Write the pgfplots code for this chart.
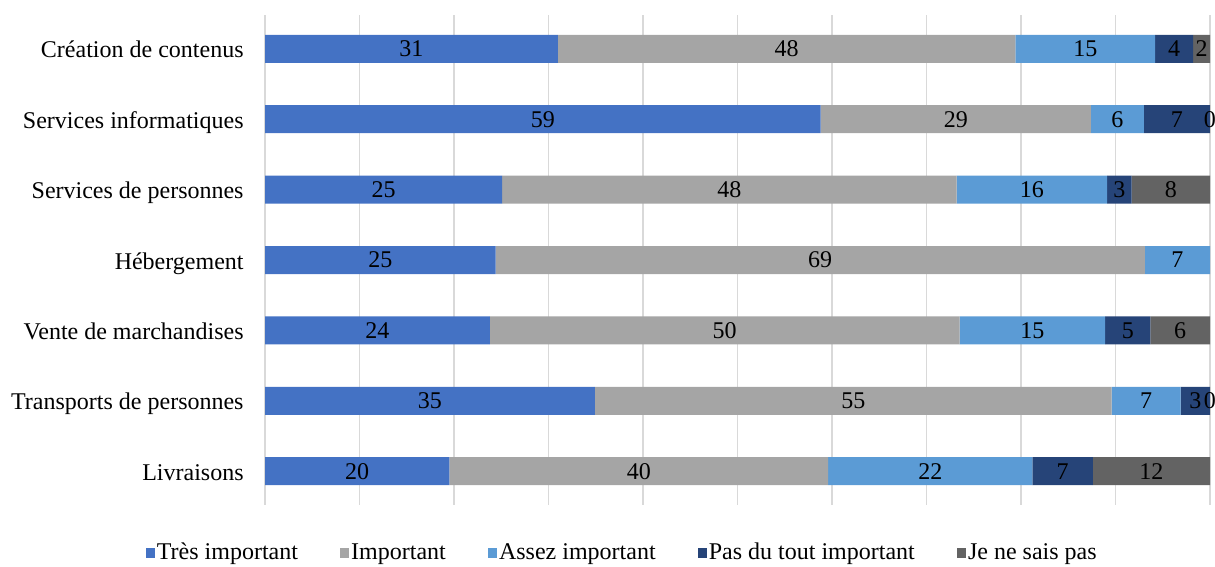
\documentclass[border=0pt]{standalone}
\usepackage{pgfplots}
\pgfplotsset{compat=1.18}
\usepackage{fontspec}
\setmainfont{Liberation Serif}
\definecolor{c1}{HTML}{4472C4}
\definecolor{c2}{HTML}{A5A5A5}
\definecolor{c3}{HTML}{5B9BD5}
\definecolor{c4}{HTML}{264478}
\definecolor{c5}{HTML}{636363}
\definecolor{gridc}{HTML}{D9D9D9}
\begin{document}
\fontsize{12}{14}\selectfont
\begin{tikzpicture}
\useasboundingbox (0,0) rectangle (607.5pt,283.5pt);
\begin{axis}[
  at={(132.5pt,31pt)}, anchor=south west,
  scale only axis, width=472.5pt, height=245pt,
  xbar stacked, bar width=14pt,
  xmin=0, xmax=100, ymin=-0.48, ymax=6.48,
  xtick={0,10,...,100}, xticklabels={},
  xmajorgrids, major grid style={gridc, line width=0.75pt},
  ytick={0,...,6},
  yticklabels={Livraisons, Transports de personnes, Vente de marchandises, Hébergement, Services de personnes, Services informatiques, Création de contenus},
  yticklabel style={font=\fontsize{12}{14}\selectfont, inner sep=0pt, xshift=-10.5pt, text height=9.6pt, text depth=0.6pt},
  major tick length=0pt,
  axis line style={draw=none},
  point meta=explicit symbolic,
  nodes near coords,
  every node near coord/.append style={font=\fontsize{12}{14}\selectfont, text=black, text height=8pt, text depth=0pt},
  legend style={at={(0.378,-0.098)}, anchor=center, legend columns=-1, draw=none, fill=none,
    font=\fontsize{12}{14}\selectfont,
    nodes={inner sep=1pt},
    /tikz/every even column/.append style={column sep=20pt}},
  legend image code/.code={\fill[#1] (0pt,-2.3pt) rectangle (4.6pt,2.3pt);},
]
\addplot[fill=c1, draw=none] coordinates {
 (19.5,0) [20] (34.9,1) [35] (23.8,2) [24] (24.4,3) [25] (25.1,4) [25] (58.8,5) [59] (31.0,6) [31]};
\addplot[fill=c2, draw=none] coordinates {
 (40.1,0) [40] (54.7,1) [55] (49.7,2) [50] (68.7,3) [69] (48.1,4) [48] (28.6,5) [29] (48.4,6) [48]};
\addplot[fill=c3, draw=none] coordinates {
 (21.6,0) [22] (7.3,1) [7] (15.4,2) [15] (6.9,3) [7] (15.9,4) [16] (5.6,5) [6] (14.8,6) [15]};
\addplot[fill=c4, draw=none] coordinates {
 (6.4,0) [7] (3.09,1) [3] (4.8,2) [5] (0,3) [] (2.6,4) [3] (6.99,5) [7] (4.0,6) [4]};
\addplot[fill=c5, draw=none] coordinates {
 (12.4,0) [12] (0.01,1) [0] (6.3,2) [6] (0,3) [] (8.3,4) [8] (0.01,5) [0] (1.8,6) [2]};
\legend{Très important, Important, Assez important, Pas du tout important, Je ne sais pas}
\end{axis}
\end{tikzpicture}
\end{document}
